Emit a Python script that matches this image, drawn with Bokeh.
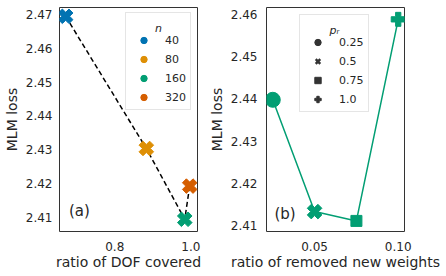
import math
from bokeh.plotting import figure
from bokeh.layouts import row
from bokeh.models import (Range1d, FixedTicker, Legend, LegendItem, Label,
                          ColumnDataSource, NumeralTickFormatter)
from bokeh.embed import file_html
from bokeh.resources import INLINE

# ---- data: panel (a) ----
n_values = ["40", "80", "160", "320"]
dof_ratio = [0.671, 0.883, 0.984, 0.997]
mlm_loss_a = [2.4694, 2.4304, 2.4095, 2.4193]
x_ticks_a = [0.8, 1.0]
y_ticks_a = [2.41, 2.42, 2.43, 2.44, 2.45, 2.46, 2.47]

# ---- data: panel (b) ----
pr_values = ["0.25", "0.5", "0.75", "1.0"]
removed_ratio = [0.025, 0.05, 0.075, 0.10]
mlm_loss_b = [2.4398, 2.4134, 2.4112, 2.4588]
x_ticks_b = [0.05, 0.10]
y_ticks_b = [2.41, 2.42, 2.43, 2.44, 2.45, 2.46]

# ---- styles ----
palette = ["#0173b2", "#de8f05", "#029e73", "#d55e00"]
green = "#029e73"
markers_b = ["circle", "plus", "square", "plus"]
angles_b = [0, math.pi / 4, 0, 0]
sizes_b = [15, 15, 11, 14]
legend_markers_b = ["circle", "x", "square", "plus"]
legend_lw_b = [1, 2.5, 1, 1]
FONT = "DejaVu Sans"
TXT = "#262626"


def style(p):
    p.outline_line_color = "#333333"
    p.outline_line_width = 1
    p.xgrid.visible = False
    p.ygrid.visible = False
    p.background_fill_color = "white"
    for ax in list(p.xaxis) + list(p.yaxis):
        ax.axis_line_color = None
        ax.major_tick_line_color = None
        ax.minor_tick_line_color = None
        ax.major_tick_out = 0
        ax.major_tick_in = 0
        ax.minor_tick_out = 0
        ax.major_label_text_font = FONT
        ax.major_label_text_font_size = "12px"
        ax.major_label_text_color = TXT
        ax.axis_label_text_font = FONT
        ax.axis_label_text_font_size = "14px"
        ax.axis_label_text_font_style = "normal"
        ax.axis_label_text_color = TXT
    p.yaxis.axis_label_standoff = 3
    p.xaxis.axis_label_standoff = 0
    p.xaxis.major_label_standoff = 10
    p.yaxis.major_label_standoff = 7


def make_legend(p, items, loc):
    leg = Legend(items=items, location=loc, title=" ")
    leg.padding = 4
    leg.spacing = 3
    leg.margin = 0
    leg.glyph_height = 16
    leg.glyph_width = 27
    leg.label_height = 16
    leg.label_standoff = 8
    leg.title_standoff = 2
    leg.title_text_font = FONT
    leg.title_text_font_size = "11px"
    leg.label_text_font = FONT
    leg.label_text_font_size = "11px"
    leg.label_text_color = TXT
    leg.border_line_color = "#cccccc"
    leg.border_line_width = 1
    leg.background_fill_alpha = 0
    p.add_layout(leg)
    return leg


# ---------------- panel (a) ----------------
p1 = figure(frame_width=138, frame_height=224,
            min_border_left=59, min_border_right=8,
            min_border_top=7, min_border_bottom=45,
            x_range=Range1d(0.6548, 1.0175), y_range=Range1d(2.4059, 2.4720),
            output_backend="svg", toolbar_location=None)
style(p1)
p1.xaxis.axis_label = "ratio of DOF covered"
p1.yaxis.axis_label = "MLM loss"
p1.xaxis.ticker = FixedTicker(ticks=x_ticks_a)
p1.yaxis.ticker = FixedTicker(ticks=y_ticks_a)
p1.xaxis.formatter = NumeralTickFormatter(format="0.0")
p1.yaxis.formatter = NumeralTickFormatter(format="0.00")

src_a = ColumnDataSource(dict(x=dof_ratio, y=mlm_loss_a, c=palette))
p1.line("x", "y", source=src_a, line_color="black", line_dash="5 3", line_width=1.5)
p1.scatter("x", "y", source=src_a, marker="plus", angle=math.pi / 4, size=15,
           fill_color="c", line_color="c")

items_a = []
for n, c in zip(n_values, palette):
    r = p1.scatter(x=[float("nan")], y=[float("nan")], marker="circle",
                   fill_color=c, line_color=c)
    items_a.append(LegendItem(label=n, renderers=[r]))
make_legend(p1, items_a, (66, 121))
p1.add_layout(Label(x=99, y=203, x_units="screen", y_units="screen", text="n",
                    text_font=FONT, text_font_size="11px", text_font_style="italic",
                    text_color=TXT, text_align="center", text_baseline="middle",
                    level="overlay"))
p1.add_layout(Label(x=9.5, y=21, x_units="screen", y_units="screen", text="(a)",
                    text_font=FONT, text_font_size="15px", text_color=TXT,
                    text_baseline="alphabetic", level="overlay"))

# ---------------- panel (b) ----------------
p2 = figure(frame_width=138, frame_height=224,
            min_border_left=59, min_border_right=40,
            min_border_top=7, min_border_bottom=45,
            x_range=Range1d(0.02125, 0.10375), y_range=Range1d(2.4087, 2.4616),
            output_backend="svg", toolbar_location=None)
style(p2)
p2.xaxis.axis_label = "ratio of removed new weights"
p2.yaxis.axis_label = "MLM loss"
p2.xaxis.ticker = FixedTicker(ticks=x_ticks_b)
p2.yaxis.ticker = FixedTicker(ticks=y_ticks_b)
p2.xaxis.formatter = NumeralTickFormatter(format="0.00")
p2.yaxis.formatter = NumeralTickFormatter(format="0.00")
p2.yaxis.major_label_standoff = 9

src_b = ColumnDataSource(dict(x=removed_ratio, y=mlm_loss_b, m=markers_b,
                              a=angles_b, s=sizes_b))
p2.line("x", "y", source=src_b, line_color=green, line_width=1.5)
p2.scatter("x", "y", source=src_b, marker="m", angle="a", size="s",
           fill_color=green, line_color=green)

items_b = []
for lab, m, lw in zip(pr_values, legend_markers_b, legend_lw_b):
    r = p2.scatter(x=[float("nan")], y=[float("nan")], marker=m, line_width=lw,
                   fill_color="#333333", line_color="#333333")
    items_b.append(LegendItem(label=lab, renderers=[r]))
make_legend(p2, items_b, (33, 119))
p2.add_layout(Label(x=68, y=201, x_units="screen", y_units="screen", text="pᵣ",
                    text_font=FONT, text_font_size="11px", text_font_style="italic",
                    text_color=TXT, text_align="center", text_baseline="middle",
                    level="overlay"))
p2.add_layout(Label(x=8, y=18, x_units="screen", y_units="screen", text="(b)",
                    text_font=FONT, text_font_size="15px", text_color=TXT,
                    text_baseline="alphabetic", level="overlay"))

layout = row(p1, p2)
open("out.html", "w").write(file_html(layout, INLINE))
